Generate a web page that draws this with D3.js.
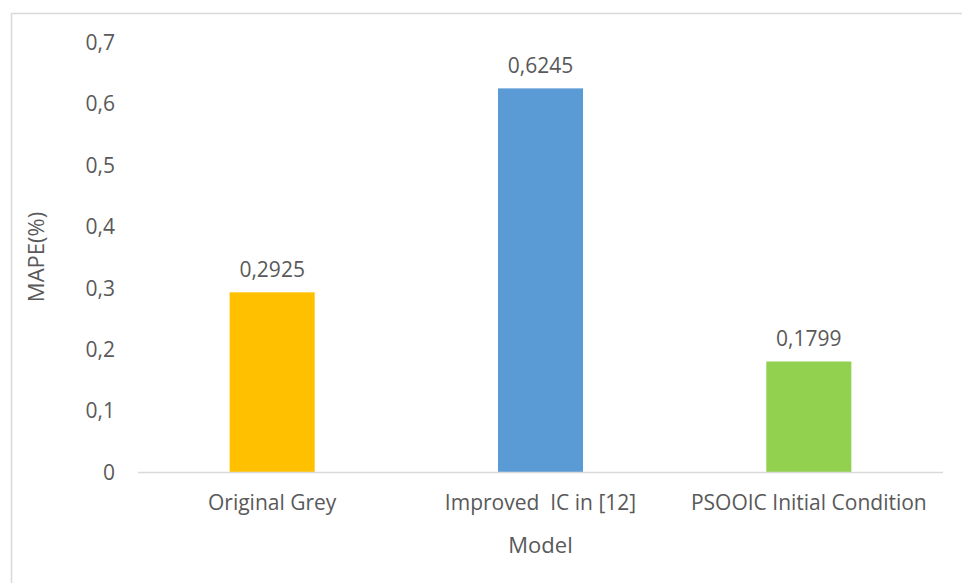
<!DOCTYPE html>
<html>
<head>
<meta charset="utf-8">
<script src="https://cdn.jsdelivr.net/npm/d3@7"></script>
<style>
  html, body { margin: 0; padding: 0; background: #fff; }
  svg { display: block; }
  text { font-family: "Open Sans", "Noto Sans", sans-serif; fill: #595959; white-space: pre; }
</style>
</head>
<body>
<svg id="chart" width="962" height="583"></svg>
<script>
// MAPE per model
const categories = ["Original Grey", "Improved  IC in [12]", "PSOOIC Initial Condition"];
const mapeValues = [0.2925, 0.6245, 0.1799];
const valueLabels = ["0,2925", "0,6245", "0,1799"];
const barColors = ["#FFC000", "#5B9BD5", "#92D050"];
const yTicks = [0, 0.1, 0.2, 0.3, 0.4, 0.5, 0.6, 0.7];

const svg = d3.select("#chart");
const W = 962, H = 583;
const plot = { left: 138, right: 943, top: 42, bottom: 472 };

// chart area outline
svg.append("rect")
  .attr("x", 11.5).attr("y", 13.5)
  .attr("width", W + 20).attr("height", H + 20)
  .attr("fill", "none").attr("stroke", "#d9d9d9").attr("stroke-width", 1.5);

const x = d3.scaleBand()
  .domain(categories)
  .range([plot.left, plot.right])
  .paddingInner(0.683)
  .paddingOuter(0.3415);

const y = d3.scaleLinear().domain([0, 0.7]).range([plot.bottom, plot.top]);

const fmt = v => d3.format(".1f")(v).replace(".", ",");

// y axis labels (no axis line)
const yAxis = d3.axisLeft(y)
  .tickValues(yTicks)
  .tickSize(0)
  .tickPadding(0)
  .tickFormat(d => d === 0 ? "0" : fmt(d));
const yg = svg.append("g").attr("transform", `translate(115,0)`).call(yAxis);
yg.select(".domain").remove();
yg.selectAll("text")
  .attr("font-size", 21)
  .attr("font-family", null)
  .attr("fill", "#595959")
  .attr("dy", "0.35em");

// bars
svg.append("g").selectAll("rect")
  .data(mapeValues)
  .join("rect")
  .attr("x", (d, i) => x(categories[i]))
  .attr("y", d => y(d))
  .attr("width", x.bandwidth())
  .attr("height", d => y(0) - y(d))
  .attr("fill", (d, i) => barColors[i]);

// value labels
svg.append("g").selectAll("text")
  .data(mapeValues)
  .join("text")
  .attr("x", (d, i) => x(categories[i]) + x.bandwidth() / 2)
  .attr("y", d => y(d) - 15)
  .attr("text-anchor", "middle")
  .attr("font-size", 21)
  .text((d, i) => valueLabels[i]);

// category axis
const xAxis = d3.axisBottom(x).tickSize(0).tickPadding(0);
const xg = svg.append("g").attr("transform", `translate(0,${plot.bottom})`).call(xAxis);
xg.select(".domain")
  .attr("stroke", "#d9d9d9").attr("stroke-width", 1.5)
  .attr("d", `M${plot.left},0.5H${plot.right}`);
xg.selectAll("text")
  .attr("font-size", 21)
  .attr("font-family", null)
  .attr("fill", "#595959")
  .attr("y", 31)
  .attr("dy", "0.35em");

// axis titles
svg.append("text")
  .attr("x", (plot.left + plot.right) / 2)
  .attr("y", 545)
  .attr("dy", "0.35em")
  .attr("text-anchor", "middle")
  .attr("font-size", 22)
  .text("Model");

svg.append("text")
  .attr("transform", `translate(36,${(plot.top + plot.bottom) / 2}) rotate(-90)`)
  .attr("dy", "0.35em")
  .attr("text-anchor", "middle")
  .attr("font-size", 22)
  .text("MAPE(%)");
</script>
</body>
</html>
